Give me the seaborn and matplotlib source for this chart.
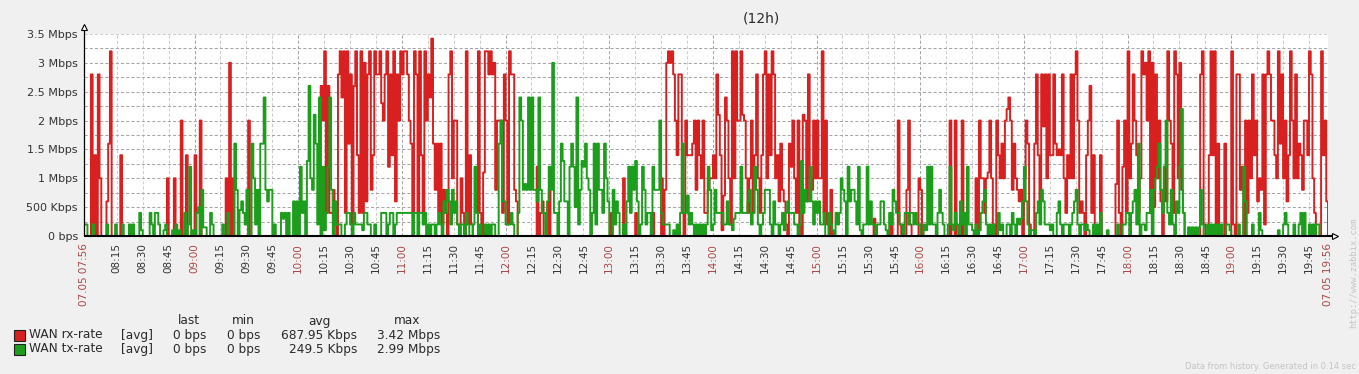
import numpy as np
import pandas as pd
import matplotlib
matplotlib.use("Agg")
import matplotlib.pyplot as plt
from matplotlib.patches import Rectangle
from matplotlib.ticker import MultipleLocator
import seaborn as sns

# ---------------- data (Mbps, one value per minute from 07:56, one row per hour) ----------------
rx_rows = [
    [0,0,0,0,2.8,0,1.4,0,2.8,1.0, 0,0,0,0.6,1.6,3.2,0,0,0,0, 0,1.4,0,0,0,0,0,0,0,0,
     0,0,0,0,0,0,0,0,0,0, 0,0,0,0,0,0,0,0,1.0,0, 0,0,1.0,0,0,0,2.0,0,0,1.4],
    [0,0,0,0,1.4,0,0,2.0,0,0, 0,0,0,0,0,0,0,0,0,0, 0,0,1.0,0,3.0,0,1.0,0,0,0,
     0,0,0,0,0,2.0,0,0,0,0, 0,0,0,0,0,0,0,0,0,0, 0,0,0,0,0,0,0,0,0,0],
    [0, 0,0,0,0,0,0,0,0,0,0, 0,0,0,0,0,0,2.6,2.0,3.2,0.4, 2.6,0.4,0.4,0.8,0.2,0,2.8,3.2,2.4,3.2,
     0.4,3.2,1.6,2.8,0.2,2.6,3.2,1.4,0.4,3.2, 0.4,3.0,0.6,2.8,3.2,0.8,1.4,3.2,2.8,2.8,
     3.2,2.3,2.0,2.8,3.2,1.2,2.8,1.4,3.2,0.6],
    [2.8,2.0,3.2,2.8,3.2,3.2,2.8,2.0,1.6,0.4, 3.2,2.8,0.4,3.2,1.4,0.4,3.2,2.0,2.8,2.4,
     3.42,1.6,0.8,1.6,0.4,1.6,0.2,0.8,0.4,0, 2.8,3.2,1.0,2.0,2.0,0.2,0,1.0,0.4,0,
     3.2,0.2,1.4,0.2,0,0,0,3.2,0.4,0, 1.1,3.2,3.2,2.8,3.2,2.8,3.0,0.8,2.0,2.0],
    [2.0,0.4,2.8,2.0,0.2,3.2,2.8,2.8,0.8,0.6, 0,0,0,0,0,0,0,0,0,0, 0,1.2,0,0.4,0.6,0,0,0,0.8,0,
     0,0,0,0,0,0,0,0,0,0, 0,0,0,0,0,0,0,0,0,0, 0,0,0,0,0,0,0,0,0,0],
    [0,0,0,0,0.4,0,0,0,0,0, 0,1.0,0,0,0,0,0,0,0.4,0, 0,0,0,0,0,0,0,0,0.4,0,
     0,0,0,1.0,0,0.8,3.0,3.2,3.0,3.2, 2.8,2.0,1.4,2.8,2.8,0.4,0,2.0,1.4,1.4,
     1.4,1.6,2.0,0.8,2.0,1.4,1.0,2.0,0.4,0.4],
    [0.8,1.0,1.0,1.4,1.0,2.8,2.1,1.4,0.1,0.7, 2.4,2.0,1.0,0.2,3.2,1.0,3.2,2.0,2.0,3.2,
     2.1,2.0,1.0,0.4,1.0,2.0,0.4,1.4,2.8,1.0, 0.4,1.4,2.8,3.2,1.0,2.8,1.4,3.2,2.8,1.0,
     1.4,0.6,1.6,0.8,0.6,0.2,0,1.6,1.2,2.0, 1.0,0.4,2.0,0.2,0,2.1,2.0,0.6,2.8,1.0],
    [0.8,2.0,1.0,2.0,1.0,1.0,3.2,0.4,2.0,0.2, 0,0.8,0,0,0,0,0,0,0,0, 0,0,0,0,0,0,0,0,0,0,
     0,0,0,0,0,0,0.3,0,0,0, 0,0,0,0,0,0,0.4,0,0,0, 2.0,0.2,0,0,0,0.8,2.0,0.2,0,0],
    [0,0,1.0,0.8,0,0,0,0,0,0, 0,0,0,0,0,0,0,0,0,0, 2.0,0,0,2.0,0,0,0,2.0,0,0,
     0,0,0,0,0,1.0,0,2.0,1.0,1.0, 0.4,1.0,1.1,2.0,1.0,0.2,0,2.0,1.4,1.0,
     1.6,1.0,2.0,2.2,2.4,2.0,0.8,1.6,1.0,0.8],
    [0.6,0.8,0,1.0,2.0,1.6,0.2,0,0,1.6, 2.8,1.4,0.6,2.8,1.9,2.8,1.0,2.8,1.4,1.4,
     2.8,1.6,1.4,1.5,1.4,2.8,1.0,0.4,1.4,1.0, 2.8,1.0,2.8,3.2,2.0,0.4,0.6,0.4,0,1.4,
     2.0,2.6,0.4,1.4,0,0,0,1.4,0,0, 0,0,0,0,0,0,0.9,2.0,0.4,0],
    [1.2,2.0,0.4,3.2,1.0,1.6,2.8,2.0,1.4,0.4, 1.0,3.2,2.8,3.0,2.0,3.2,0.4,3.0,0.5,2.8,
     1.0,2.0,0.6,0,1.2,0.6,3.2,2.0,1.6,0.4, 3.2,2.8,1.0,3.0,0.8,0.4,0,0,0,0, 0,
     0,0,0,0,2.8,3.2,0.2,0,0,1.4, 3.2,1.4,3.2,0.2,1.6,0,0,0,1.6,0],
    [0,0,3.2,0.2,0,2.8,2.8,0.8,1.2,0, 2.0,0.4,2.0,1.0,2.8,1.4,2.0,0.6,1.0,0.8,
     2.8,0.2,2.8,3.2,2.8,2.0,2.0,1.4,1.0,3.2, 1.6,2.8,1.0,2.0,0.6,1.4,3.2,2.0,1.0,2.8,
     1.0,1.6,1.4,0.8,2.0,2.0,1.4,3.2,2.8,1.0, 0.4,0,0,0,3.2,1.4,2.0,0.6],
    [0],
]

tx_rows = [
    [0.2,0.2,0,0,0,0.2,0,0,0,0, 0,0,0,0.2,0,0,0,0,0.2,0, 0,0,0.2,0,0,0,0.2,0,0.2,0,
     0,0,0.4,0.1,0,0,0,0,0.4,0.2, 0,0.4,0.4,0.2,0,0,0.1,0.2,0,0, 0,0.1,0,0.2,0,0.1,0,0,0.4,0],
    [0.2,1.2,0,0.1,0,0.4,0.5,0,0.8,0.15, 0.15,0,0,0.4,0.2,0,0,0,0,0, 0.2,0,0,0.4,0,0,0,1.6,0.8,0,
     0.45,0.6,0.4,0.2,0.8,0,0,1.6,1.0,0.2, 0.8,0,1.6,1.6,2.4,0.8,0.6,0.8,0.8,0,
     0.2,0,0,0,0.4,0.3,0.4,0,0.4,0],
    [0, 0.6,0,0.6,0,1.2,0.4,0.6,0,1.3,2.6, 1.0,0.8,2.1,1.6,0.2,2.4,0,1.2,0.1,0.4,
     1.2,2.4,0.8,0,0.6,0.2,0.2,0.2,0,0, 0.2,0.4,0.4,0.2,0,0.4,0.2,0.2,0.2,0.2,
     0.1,0.4,0.4,0.2,0.2,0,0,0.2,0,0, 0,0.4,0.4,0.4,0,0.2,0.4,0.4,0,0.2],
    [0.4,0.4,0.4,0.4,0.4,0.4,0.4,0.4,0.4,0, 0.4,0.4,0,0.4,0.4,0.2,0.4,0,0.2,0,
     0.2,0.2,0,0.2,0.4,0.2,0,0.6,0.4,0.8, 0.6,0.2,0.8,0.4,0.6,0.2,0,0.2,0.2,0,
     0.4,0.2,0,0,0.2,1.2,0.4,0,0.2,0, 0,0.2,0,0.2,0,0.2,0.2,0,0,1.6],
    [2.0,0.6,0.6,0.2,0.2,0.2,0.4,0.2,0,0, 0.4,2.4,2.0,0.8,0.9,0.8,2.4,0.8,2.4,0.8,
     0.8,0.6,2.4,0.8,0.4,0.4,0,0.6,1.2,0.8, 3.0,0.4,0.4,0,0.6,1.6,1.3,0.6,0.6,0,
     1.2,1.6,1.2,0.5,2.4,0.2,0.8,1.3,1.2,1.6, 1.0,0.8,0,0.4,1.6,0.2,1.6,0.8,0.8,0.4],
    [1.6,1.0,0.6,0,0,0.8,0.2,0.6,0.4,0, 0,0.2,0,0.6,1.2,0.4,1.2,0.8,1.3,0.6,
     0,0.2,1.2,0.8,0.2,0.4,0.4,0,1.2,0.8, 0.8,0.8,2.0,0.4,0.2,0.2,0.2,0.2,0,0,
     0.1,0,0.2,0,0.4,1.6,0.4,0.4,0.7,0.2, 0.4,0.2,0,0.2,0,0.2,0,0.2,0,0.2],
    [1.2,0.8,0.1,0.2,0.8,0.4,0.4,0.4,0.4,0.2, 0.2,0.6,0.2,0.2,0.1,0.3,0.4,0.4,0.4,1.2,
     0.4,0.4,0.4,0.6,0.8,0.2,0.4,1.2,0.8,0.2, 0,0.2,0.4,0.8,0.8,0.8,0.2,0,0.6,0.2,
     0.2,0,0.2,0.4,0.1,0.4,0.6,0.4,0.4,0.4, 0.2,0.2,0,0.2,1.3,0.4,0.8,0.6,0.6,1.2],
    [0.6,0.2,0.6,0.4,0.6,0.2,0.2,0.4,0,0, 0.4,0.2,0.1,0,0.4,0.2,0.4,1.0,0.8,0.6,
     0,1.2,0.6,0.8,0.8,0.6,0.2,1.2,0.1,0, 0.2,0.2,1.2,0.2,0.6,0.2,0.2,0,0.2,0.2,
     0.6,0.6,0.2,0.1,0,0.4,0.2,0.8,0.6,0.4, 0.4,0.2,0.2,0,0.4,0.4,0.2,0.4,0.4,0.2],
    [0.4,0.2,0.2,0,0,0.2,0.1,1.2,0.2,1.2, 0.2,0.2,0,0.4,0.8,0.4,0.2,0,0,0.2,
     1.2,0.2,0.1,0.4,0.2,0,0.6,0.2,0.4,0, 1.2,0.2,0.2,0.1,0,0.2,0,0.1,0.4,0.6,
     0.8,0.2,0,0.2,0,0.2,0,0,0.4,0.1, 0.2,0,0,0.2,0.2,0,0.4,0.2,0,0.3],
    [0.2,0.3,0.6,1.2,0.6,0.2,0,0.1,0.1,0, 0.4,0.6,0.2,0.8,0.6,0.2,0.2,0.2,0.1,0.2,
     0,0,0.4,0.6,0.2,0,0.2,0.2,0.2,0, 0.2,0.4,0.6,0.8,0.2,0,0.2,0.2,0.1,0.2,
     0.1,0,0,0.2,0,0.2,0,0.4,0,0, 0,0.1,0,0,0,0,0,0.2,0,0],
    [0.2,0.2,0.4,0.4,0,0.4,0.6,0.8,0.2,1.6, 0,0.2,0.2,0.1,0.4,0.4,0.8,0,0.8,1.0,
     1.2,1.6,0.8,0.4,1.2,2.0,0.4,0.2,0.8,0.2, 0,0.6,0.4,1.2,2.2,0.4,0,0,0.15,0,0.15,
     0,0.15,0,0.15,0.8,0.2,0,0,0.2,0, 0.2,0,0.2,0,0.2,0,0.2,0,0,0.2],
    [0.2,0.1,0,0,0,0,0.2,0,0,1.2, 0.6,0,0,0,0.2,0,0,0,0.4,0.1, 0,0,0,0,0,0,0,0,0,0.1,
     0,0,0.2,0.4,0.2,0,0,0,0.2,0, 0,0.2,0.4,0,0.4,0,0,0.2,0,0.2, 0,0.2,0.2,0,0,0,0,0],
    [0],
]

rx_mbps = [v for row in rx_rows for v in row]
tx_mbps = [v for row in tx_rows for v in row]

series_names = ["WAN rx-rate", "WAN tx-rate"]
series_colors = ["#d82020", "#1c9e1c"]

y_ticks = [0, 0.5, 1.0, 1.5, 2.0, 2.5, 3.0, 3.5]
y_tick_labels = ["0 bps", "500 Kbps", "1 Mbps", "1.5 Mbps", "2 Mbps",
                 "2.5 Mbps", "3 Mbps", "3.5 Mbps"]

start_label = "07.05 07:56"
end_label = "07.05 19:56"
start_minute_of_day = 7 * 60 + 56
time_labels = [f"{h:02d}:{m:02d}" for h in range(8, 20) for m in (0, 15, 30, 45)
               if (8 * 60 + 15) <= h * 60 + m <= (19 * 60 + 45)]

legend_header = ["last", "min", "avg", "max"]
legend_values = [["0 bps", "0 bps", "687.95 Kbps", "3.42 Mbps"],
                 ["0 bps", "0 bps", "249.5 Kbps", "2.99 Mbps"]]
title_text = "(12h)"

# ---------------- figure ----------------
W, H = 1359, 374
BG = "#f0f0f0"
HOUR_COL = "#a84848"
TXT = "#2a2a2a"

def fx(x):
    return x / W

def fy(y):
    return 1 - y / H

sns.set_style("white")
plt.rcParams["font.family"] = ["DejaVu Sans"]

fig = plt.figure(figsize=(W / 100, H / 100), dpi=100, facecolor=BG)
ax = fig.add_axes([fx(84), fy(236), fx(1328) - fx(84), fy(34) - fy(236)])
ax.set_facecolor("white")

frames = []
for name, vals in zip(series_names, [rx_mbps, tx_mbps]):
    frames.append(pd.DataFrame({"minute": np.arange(len(vals)), "mbps": vals, "series": name}))
df = pd.concat(frames, ignore_index=True)

sns.lineplot(data=df, x="minute", y="mbps", hue="series", hue_order=series_names,
             palette=series_colors, estimator=None, drawstyle="steps-post",
             linewidth=1.4, legend=False, ax=ax, zorder=3)

total_minutes = 720
ax.set_xlim(0, total_minutes)
ax.set_ylim(0, 3.5)
ax.set_xlabel("")
ax.set_ylabel("")
for s in ax.spines.values():
    s.set_visible(False)

# y axis ticks & grid
ax.set_yticks(y_ticks)
ax.set_yticklabels(y_tick_labels)
ax.yaxis.set_minor_locator(MultipleLocator(0.25))
ax.tick_params(axis="y", which="both", length=0, pad=4.5, labelsize=8, labelcolor="#333333")
ax.grid(True, axis="y", which="both", color="#a6a6a6", linewidth=0.75,
        linestyle=(0, (3, 2)), zorder=1)
ax.yaxis.get_major_ticks()[-1].gridline.set_color("#cfcfcf")

# x axis ticks & grid
minutes = [int(l[:2]) * 60 + int(l[3:]) - start_minute_of_day for l in time_labels]
x_ticks = [0] + minutes + [total_minutes]
x_labels = [start_label] + time_labels + [end_label]
ax.set_xticks(x_ticks)
ax.set_xticklabels(x_labels, rotation=90)
ax.tick_params(axis="x", length=0, pad=5, labelsize=7.5, labelcolor="#333333")
ax.grid(True, axis="x", which="major", linewidth=0.75, linestyle=(0, (3, 2)), zorder=1)
for tick, lbl, text in zip(ax.xaxis.get_major_ticks(), ax.get_xticklabels(), x_labels):
    is_hour = text.endswith(":00")
    is_edge = text in (start_label, end_label)
    tick.gridline.set_color("#a6a6a6" if is_hour else "#cdcdcd")
    if is_hour or is_edge:
        lbl.set_color(HOUR_COL)
ax.set_axisbelow(True)

# axis lines with arrows
ax.plot([0, 0], [0, 1.035], transform=ax.transAxes, color="black", lw=0.9,
        clip_on=False, zorder=6, solid_capstyle="butt")
ax.plot([0, 1.0055], [0, 0], transform=ax.transAxes, color="black", lw=1.5,
        clip_on=False, zorder=6, solid_capstyle="butt")
ax.plot([0], [1.035], transform=ax.transAxes, marker="^", ms=5, mfc="white",
        mec="black", mew=0.8, clip_on=False, zorder=7)
ax.plot([1.0055], [0], transform=ax.transAxes, marker=">", ms=5, mfc="white",
        mec="black", mew=0.8, clip_on=False, zorder=7)

# title
fig.text(fx(761), fy(18), title_text, ha="center", va="center", fontsize=10, color=TXT)

# legend table
LFS = 8.7
header_x = [189, 243, 319, 407]
value_right = [206, 260, 357, 440]
for hx, h in zip(header_x, legend_header):
    fig.text(fx(hx), fy(321), h, ha="center", va="center", fontsize=LFS, color=TXT)
for i, (name, col, vals) in enumerate(zip(series_names, series_colors, legend_values)):
    yc = 335 + i * 14
    fig.add_artist(Rectangle((fx(14), fy(yc + 5.5)), 10.5 / W, 10.5 / H,
                             transform=fig.transFigure, facecolor=col,
                             edgecolor="#202020", linewidth=0.8))
    fig.text(fx(29), fy(yc), name, ha="left", va="center", fontsize=LFS, color=TXT)
    fig.text(fx(121), fy(yc), "[avg]", ha="left", va="center", fontsize=LFS, color=TXT)
    for xr, v in zip(value_right, vals):
        fig.text(fx(xr), fy(yc), v, ha="right", va="center", fontsize=LFS, color=TXT)

# watermarks
fig.text(fx(1354), fy(273), "http://www.zabbix.com", rotation=90, ha="center", va="center",
         fontsize=6.2, color="#c4c4c4", family="DejaVu Sans Mono")
fig.text(fx(1356), fy(366.5), "Data from history. Generated in 0.14 sec", ha="right",
         va="center", fontsize=6, color="#c4c4c4")

fig.savefig("out.png", dpi=100, facecolor=BG)
